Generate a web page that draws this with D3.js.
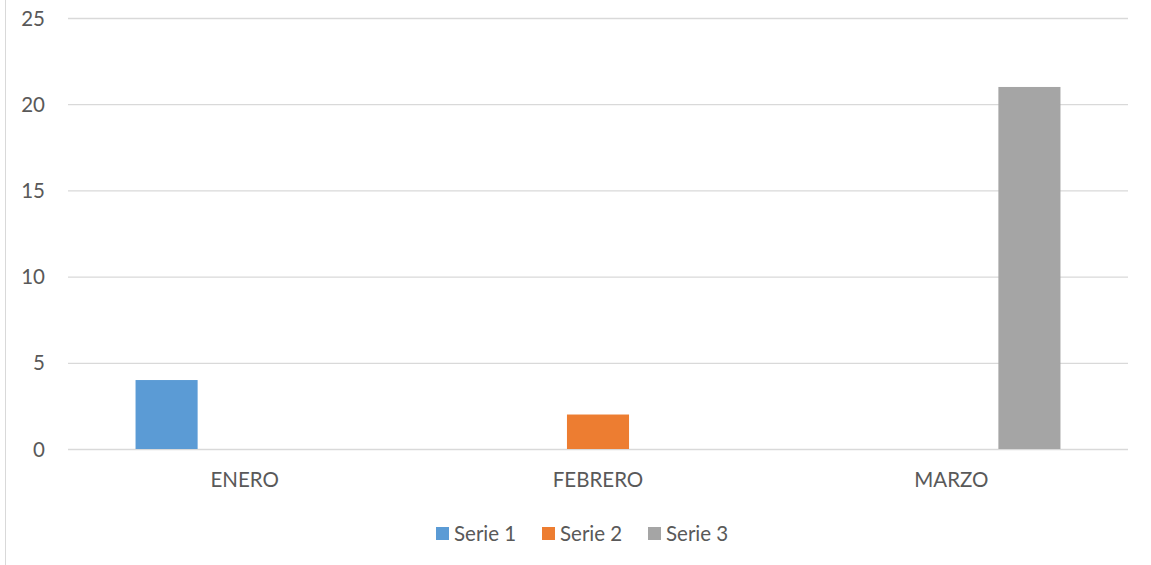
<!DOCTYPE html>
<html>
<head>
<meta charset="utf-8">
<script src="https://cdnjs.cloudflare.com/ajax/libs/d3/7.8.5/d3.min.js"></script>
<style>
  html, body { margin: 0; padding: 0; background: #fff; }
  svg { display: block; }
  text { font-family: Lato, "Open Sans", sans-serif; fill: #595959; }
</style>
</head>
<body>
<div id="chart"></div>
<script>
const categories = ["ENERO", "FEBRERO", "MARZO"];
const seriesNames = ["Serie 1", "Serie 2", "Serie 3"];
const serie1 = [4, 0, 0];
const serie2 = [0, 2, 0];
const serie3 = [0, 0, 21];
const seriesColors = ["#5B9BD5", "#ED7D31", "#A5A5A5"];
const yTicks = [0, 5, 10, 15, 20, 25];

const seriesValues = [serie1, serie2, serie3];
const W = 1151, H = 565;
const plot = { left: 68, right: 1128, top: 18, bottom: 449 };
const fs = "20.5px";

const svg = d3.select("#chart").append("svg").attr("width", W).attr("height", H);

svg.append("line").attr("x1", 5.5).attr("x2", 5.5).attr("y1", 0).attr("y2", H)
  .attr("stroke", "#d9d9d9").attr("stroke-width", 1);

const y = d3.scaleLinear().domain([0, 25]).range([plot.bottom, plot.top]);
const x0 = d3.scaleBand().domain(categories).range([plot.left, plot.right])
  .paddingInner(0.337).paddingOuter(0.1685);
const x1 = d3.scaleBand().domain(seriesNames).range([0, x0.bandwidth()])
  .paddingInner(0.205).paddingOuter(0.1025);

const yAxis = d3.axisLeft(y).tickValues(yTicks).tickSize(-(plot.right - plot.left)).tickPadding(23);
const gy = svg.append("g").attr("transform", `translate(${plot.left},0)`).call(yAxis);
gy.select(".domain").remove();
gy.selectAll(".tick line").attr("stroke", "#d9d9d9").attr("stroke-width", 1.3);
gy.selectAll(".tick text").attr("font-size", fs).attr("fill", "#595959")
  .style("font-family", "Lato, 'Open Sans', sans-serif").attr("dy", "0.35em");

categories.forEach((c, ci) => {
  seriesNames.forEach((s, si) => {
    const v = seriesValues[si][ci];
    if (v > 0) {
      svg.append("rect")
        .attr("x", x0(c) + x1(s))
        .attr("y", y(v))
        .attr("width", x1.bandwidth())
        .attr("height", y(0) - y(v))
        .attr("fill", seriesColors[si]);
    }
  });
});

const xAxis = d3.axisBottom(x0).tickSize(0).tickPadding(23);
const gx = svg.append("g").attr("transform", `translate(0,${plot.bottom})`).call(xAxis);
gx.select(".domain").remove();
gx.selectAll(".tick text").attr("font-size", fs).attr("fill", "#595959")
  .style("font-family", "Lato, 'Open Sans', sans-serif");

const legendX = [436, 542, 648];
const lg = svg.append("g");
seriesNames.forEach((s, i) => {
  lg.append("rect").attr("x", legendX[i]).attr("y", 527).attr("width", 13).attr("height", 13)
    .attr("fill", seriesColors[i]);
  lg.append("text").attr("x", legendX[i] + 18).attr("y", 541)
    .attr("font-size", fs).text(s);
});
</script>
</body>
</html>
